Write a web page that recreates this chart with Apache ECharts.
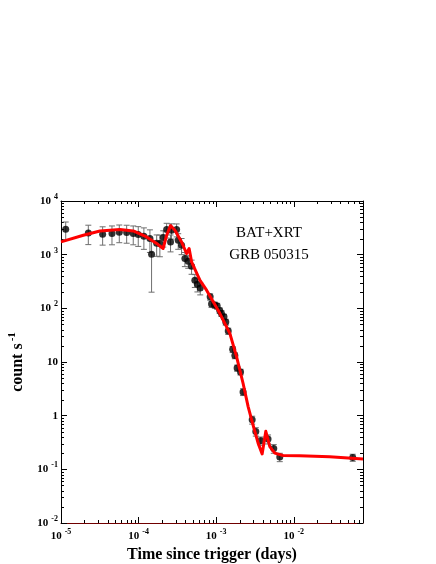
<!DOCTYPE html>
<html>
<head>
<meta charset="utf-8">
<script src="https://cdn.jsdelivr.net/npm/echarts@6/dist/echarts.min.js"></script>
<style>
  html, body { margin: 0; padding: 0; background: #fff; }
  #chart { width: 436px; height: 564px; }
</style>
</head>
<body>
<div id="chart"></div>
<script>
// observed light curve (days since trigger, count/s, 1-sigma error)
const obsTime = [1.15e-5, 2.25e-5, 3.44e-5, 4.54e-5, 5.64e-5, 7.02e-5, 8.53e-5, 9.9e-5, 1.17e-4, 1.40e-4,
  1.47e-4, 1.71e-4, 1.88e-4, 2.08e-4, 2.30e-4, 2.58e-4, 2.66e-4, 3.09e-4, 3.24e-4, 3.58e-4,
  3.95e-4, 4.36e-4, 4.82e-4, 5.31e-4, 5.73e-4, 6.23e-4, 8.36e-4, 8.71e-4, 9.61e-4, 1.03e-3,
  1.11e-3, 1.17e-3, 1.26e-3, 1.33e-3, 1.43e-3, 1.63e-3, 1.74e-3, 1.86e-3, 2.06e-3, 2.22e-3,
  2.91e-3, 3.24e-3, 3.76e-3, 4.66e-3, 5.52e-3, 6.60e-3, 5.75e-2];
const obsRate = [2980, 2540, 2405, 2477, 2620, 2584, 2477, 2374, 2206, 2000,
  1020, 1633, 1614, 2084, 2940, 1727, 2851, 2940, 1858, 1500,
  849, 757, 611, 335, 282, 238, 164, 120, 115, 110,
  90.8, 80.5, 69.6, 55.5, 37.7, 17.2, 13.2, 7.74, 6.52, 2.77,
  0.836, 0.506, 0.340, 0.367, 0.244, 0.169, 0.166];
const obsErr = [1080, 1000, 900, 950, 950, 950, 950, 950, 950, 900,
  820, 700, 700, 700, 900, 600, 900, 800, 600, 500,
  250, 200, 180, 90, 80, 60, 22, 16, 15, 14,
  11, 10, 8, 7, 5, 2.2, 1.7, 1.0, 0.8, 0.4,
  0.14, 0.09, 0.06, 0.07, 0.045, 0.03, 0.025];

// model curve (red)
const fitTime = [1e-5, 1.94e-5, 3.18e-5, 5.75e-5, 8.53e-5, 1.27e-4, 1.71e-4, 2.07e-4, 2.30e-4, 2.58e-4,
  2.94e-4, 3.58e-4, 4.15e-4, 4.48e-4, 4.82e-4, 6.16e-4, 7.52e-4, 1.11e-3, 1.50e-3, 1.83e-3,
  2.22e-3, 2.58e-3, 2.94e-3, 3.47e-3, 3.91e-3, 4.36e-3, 4.91e-3, 5.69e-3, 7.28e-3, 1.19e-2,
  2.90e-2, 7.80e-2];
const fitRate = [1728, 2301, 2767, 2938, 2767, 2138, 1614, 1303, 2301, 3484,
  2850, 1728, 1051, 1303, 735, 335, 218, 81.5, 34.2, 12.6,
  4.02, 1.475, 0.724, 0.308, 0.194, 0.511, 0.266, 0.200, 0.181, 0.179,
  0.171, 0.155];

// tick labels: [base, exponent]
const xTickValues = [1e-5, 1e-4, 1e-3, 1e-2];
const xTickLabels = [['10', '-5'], ['10', '-4'], ['10', '-3'], ['10', '-2']];
const yTickValues = [1e-2, 1e-1, 1, 10, 100, 1000, 10000];
const yTickLabels = [['10', '-2'], ['10', '-1'], ['1', ''], ['10', ''], ['10', '2'], ['10', '3'], ['10', '4']];

const SERIF = '"Liberation Serif", "DejaVu Serif", serif';

function tickFormatter(values, labels) {
  return function (v) {
    for (let i = 0; i < values.length; i++) {
      if (Math.abs(Math.log10(v) - Math.log10(values[i])) < 1e-6) {
        const [b, e] = labels[i];
        return '{b|' + b + '}' + (e ? '{s|' + e + '}' : '');
      }
    }
    return '';
  };
}

const labelRich = {
  b: { fontFamily: SERIF, fontWeight: 'bold', fontSize: 11, color: '#000' },
  s: { fontFamily: SERIF, fontWeight: 'bold', fontSize: 8, color: '#000', padding: [0, 0, 8, 3] }
};

const chart = echarts.init(document.getElementById('chart'));

const axisCommon = {
  type: 'log',
  logBase: 10,
  splitLine: { show: false },
  axisLine: { show: true, onZero: false, lineStyle: { color: '#000', width: 1 } },
  axisTick: { show: true, inside: true, length: 6, lineStyle: { color: '#000' } }
};

chart.setOption({
  backgroundColor: '#fff',
  animation: false,
  grid: { left: 61, right: 73, top: 201, bottom: 41, containLabel: false, outerBoundsMode: 'none' },
  xAxis: [
    Object.assign({}, axisCommon, {
      min: 1e-5, max: 7.8e-2,
      position: 'bottom',
      axisLine: { show: true, onZero: false, lineStyle: { color: '#700000', width: 1 } },
      axisLabel: { margin: 5, formatter: tickFormatter(xTickValues, xTickLabels), rich: labelRich },
      name: 'Time since trigger (days)',
      nameLocation: 'middle',
      nameGap: 23,
      nameTextStyle: { fontFamily: SERIF, fontWeight: 'bold', fontSize: 16, color: '#000' }
    }),
    Object.assign({}, axisCommon, {
      min: 1e-5, max: 7.8e-2,
      position: 'top',
      axisLabel: { show: false }
    })
  ],
  yAxis: [
    Object.assign({}, axisCommon, {
      min: 1e-2, max: 1e4,
      position: 'left',
      axisLabel: { margin: 3, formatter: tickFormatter(yTickValues, yTickLabels), rich: labelRich },
      name: '{n|count s}{s|-1}',
      nameLocation: 'middle',
      nameRotate: 90,
      nameGap: 33,
      nameTextStyle: {
        rich: {
          n: { fontFamily: SERIF, fontWeight: 'bold', fontSize: 16, color: '#000' },
          s: { fontFamily: SERIF, fontWeight: 'bold', fontSize: 11, color: '#000', padding: [0, 0, 10, 2] }
        }
      }
    }),
    Object.assign({}, axisCommon, {
      min: 1e-2, max: 1e4,
      position: 'right',
      axisLabel: { show: false }
    })
  ],
  graphic: [
    { type: 'text', x: 269, y: 233, style: { text: 'BAT+XRT', font: '15px ' + SERIF, fill: '#000', align: 'center', verticalAlign: 'middle' } },
    { type: 'text', x: 269, y: 255, style: { text: 'GRB 050315', font: '15px ' + SERIF, fill: '#000', align: 'center', verticalAlign: 'middle' } }
  ],
  series: [
    {
      // minor log ticks on all four sides
      type: 'custom',
      silent: true,
      z: 1,
      data: [[1e-3, 1]],
      renderItem: function (params, api) {
        const cs = params.coordSys;
        const kids = [];
        const st = { stroke: '#000', lineWidth: 1 };
        for (let d = -6; d <= 0; d++) {
          for (let k = 2; k <= 9; k++) {
            const px = Math.round(api.coord([k * Math.pow(10, d), 1])[0]) + 0.5;
            if (px <= cs.x || px >= cs.x + cs.width) continue;
            kids.push({ type: 'line', shape: { x1: px, y1: cs.y + cs.height, x2: px, y2: cs.y + cs.height - 3 }, style: st });
            kids.push({ type: 'line', shape: { x1: px, y1: cs.y, x2: px, y2: cs.y + 3 }, style: st });
          }
        }
        for (let d = -3; d <= 4; d++) {
          for (let k = 2; k <= 9; k++) {
            const py = Math.round(api.coord([1e-3, k * Math.pow(10, d)])[1]) + 0.5;
            if (py <= cs.y || py >= cs.y + cs.height) continue;
            kids.push({ type: 'line', shape: { x1: cs.x, y1: py, x2: cs.x + 3, y2: py }, style: st });
            kids.push({ type: 'line', shape: { x1: cs.x + cs.width, y1: py, x2: cs.x + cs.width - 3, y2: py }, style: st });
          }
        }
        return { type: 'group', children: kids };
      }
    },
    {
      // error bars
      type: 'custom',
      silent: true,
      z: 2,
      encode: { x: 0, y: [1, 2] },
      data: obsTime.map((t, i) => [t, Math.max(obsRate[i] - obsErr[i], 0.011), obsRate[i] + obsErr[i]]),
      renderItem: function (params, api) {
        const lo = api.coord([api.value(0), api.value(1)]);
        const hi = api.coord([api.value(0), api.value(2)]);
        const w = 3;
        const st = { stroke: '#6f6f6f', lineWidth: 1 };
        return {
          type: 'group',
          children: [
            { type: 'line', shape: { x1: lo[0], y1: lo[1], x2: hi[0], y2: hi[1] }, style: st },
            { type: 'line', shape: { x1: lo[0] - w, y1: lo[1], x2: lo[0] + w, y2: lo[1] }, style: st },
            { type: 'line', shape: { x1: hi[0] - w, y1: hi[1], x2: hi[0] + w, y2: hi[1] }, style: st }
          ]
        };
      }
    },
    {
      type: 'scatter',
      z: 3,
      symbol: 'circle',
      symbolSize: 7,
      itemStyle: { color: '#000' },
      data: obsTime.map((t, i) => [t, obsRate[i]])
    },
    {
      type: 'line',
      z: 4,
      showSymbol: false,
      symbol: 'none',
      lineStyle: { color: '#ff0000', width: 3, join: 'round' },
      data: fitTime.map((t, i) => [t, fitRate[i]])
    }
  ]
});
</script>
</body>
</html>
